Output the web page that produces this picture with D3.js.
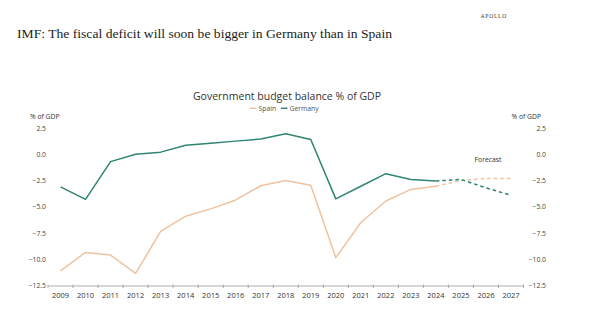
<!DOCTYPE html>
<html>
<head>
<meta charset="utf-8">
<script src="https://cdn.jsdelivr.net/npm/d3@7"></script>
<style>
  html, body { margin: 0; padding: 0; background: #fff; }
  svg { display: block; }
</style>
</head>
<body>
<svg id="chart" width="598" height="336"></svg>
<script>
// Government budget balance, % of GDP (IMF; 2025-2027 are forecasts)
const years = ["2009","2010","2011","2012","2013","2014","2015","2016","2017","2018",
               "2019","2020","2021","2022","2023","2024","2025","2026","2027"];
const spain   = [-11.1, -9.35, -9.6, -11.35, -7.35, -5.9, -5.2, -4.35, -3.0, -2.5,
                 -2.95, -9.85, -6.5, -4.45, -3.35, -3.05, -2.5, -2.3, -2.3];
const germany = [-3.1, -4.3, -0.7, 0.0, 0.2, 0.85, 1.05, 1.25, 1.45, 1.95,
                 1.4, -4.25, -3.05, -1.85, -2.4, -2.55, -2.4, -3.2, -3.9];
const lastActual = "2024";
const yTicks = [2.5, 0.0, -2.5, -5.0, -7.5, -10.0, -12.5];

const seriesList = [
  { name: "Spain",   values: spain,   color: "#efc39f" },
  { name: "Germany", values: germany, color: "#2f8571" }
];

const svg = d3.select("#chart");
const sans = "'Open Sans', 'Noto Sans', sans-serif";

// Headline + brand
svg.append("text")
  .attr("x", 17).attr("y", 38)
  .attr("font-family", "'Liberation Serif', 'DejaVu Serif', serif")
  .attr("font-size", 13.5).attr("fill", "#222")
  .attr("textLength", 375).attr("lengthAdjust", "spacingAndGlyphs")
  .text("IMF: The fiscal deficit will soon be bigger in Germany than in Spain");

svg.append("text")
  .attr("x", 507).attr("y", 18).attr("text-anchor", "end")
  .attr("font-family", "'Liberation Serif', serif")
  .attr("font-size", 5.5).attr("letter-spacing", 0.8).attr("fill", "#333")
  .text("APOLLO");

// Scales
const x = d3.scaleBand().domain(years).range([48, 523.5]);
const y = d3.scaleLinear().domain([-12.5, 2.5]).range([285.5, 128]);
const cx = d => x(d) + x.bandwidth() / 2;

// Chart title and legend
svg.append("text")
  .attr("x", 287).attr("y", 99.5).attr("text-anchor", "middle")
  .attr("font-family", sans).attr("font-size", 10.5).attr("fill", "#333")
  .text("Government budget balance % of GDP");

const legend = svg.append("g").attr("font-family", sans).attr("font-size", 6.8).attr("fill", "#555");
const legendItems = [{ s: seriesList[0], x: 250 }, { s: seriesList[1], x: 281 }];
legendItems.forEach(({ s, x: lx }) => {
  legend.append("line")
    .attr("x1", lx).attr("x2", lx + 6.5).attr("y1", 108.3).attr("y2", 108.3)
    .attr("stroke", s.color).attr("stroke-width", 1.5);
  legend.append("text").attr("x", lx + 8.5).attr("y", 110.8).text(s.name);
});

// Axis titles
[{ x: 30, anchor: "start" }, { x: 541, anchor: "end" }].forEach(a => {
  svg.append("text")
    .attr("x", a.x).attr("y", 118.5).attr("text-anchor", a.anchor)
    .attr("font-family", sans).attr("font-size", 6.8).attr("fill", "#333")
    .text("% of GDP");
});

// Y axes (labels only, left and right)
const fmt = d3.format(".1f");
const leftAxis = svg.append("g").attr("transform", "translate(46,0)")
  .call(d3.axisLeft(y).tickValues(yTicks).tickFormat(fmt).tickSize(0).tickPadding(0));
const rightAxis = svg.append("g").attr("transform", "translate(546,0)")
  .call(d3.axisLeft(y).tickValues(yTicks).tickFormat(fmt).tickSize(0).tickPadding(0));
[leftAxis, rightAxis].forEach(g => {
  g.select(".domain").remove();
  g.selectAll("text").attr("font-family", sans).attr("font-size", 6.8).attr("fill", "#444");
});

// X axis with ticks on category boundaries
const xAxis = svg.append("g").attr("transform", `translate(0,${y(-12.5)})`)
  .call(d3.axisBottom(x).tickSize(0).tickPadding(7));
xAxis.select(".domain").attr("stroke", "#999").attr("stroke-width", 0.8);
xAxis.selectAll("text").attr("font-family", sans).attr("font-size", 7.5).attr("fill", "#333");
const bounds = years.map(d => x(d)).concat([x(years[years.length - 1]) + x.bandwidth()]);
xAxis.selectAll("line.bound").data(bounds).join("line")
  .attr("class", "bound")
  .attr("x1", d => d).attr("x2", d => d).attr("y1", -1).attr("y2", 2.5)
  .attr("stroke", "#999").attr("stroke-width", 0.8);

// Lines: solid for outturns, dashed for forecasts
const line = d3.line().x(d => cx(d.year)).y(d => y(d.value));
const cut = years.indexOf(lastActual);
seriesList.forEach(s => {
  const pts = years.map((yr, i) => ({ year: yr, value: s.values[i] }));
  svg.append("path")
    .attr("d", line(pts.slice(0, cut + 1)))
    .attr("fill", "none").attr("stroke", s.color).attr("stroke-width", 1.5)
    .attr("stroke-linejoin", "round");
  svg.append("path")
    .attr("d", line(pts.slice(cut)))
    .attr("fill", "none").attr("stroke", s.color).attr("stroke-width", 1.5)
    .attr("stroke-dasharray", "3.5,3");
});

svg.append("text")
  .attr("x", 488).attr("y", 161.5).attr("text-anchor", "middle")
  .attr("font-family", sans).attr("font-size", 6.8).attr("fill", "#333")
  .text("Forecast");
</script>
</body>
</html>
